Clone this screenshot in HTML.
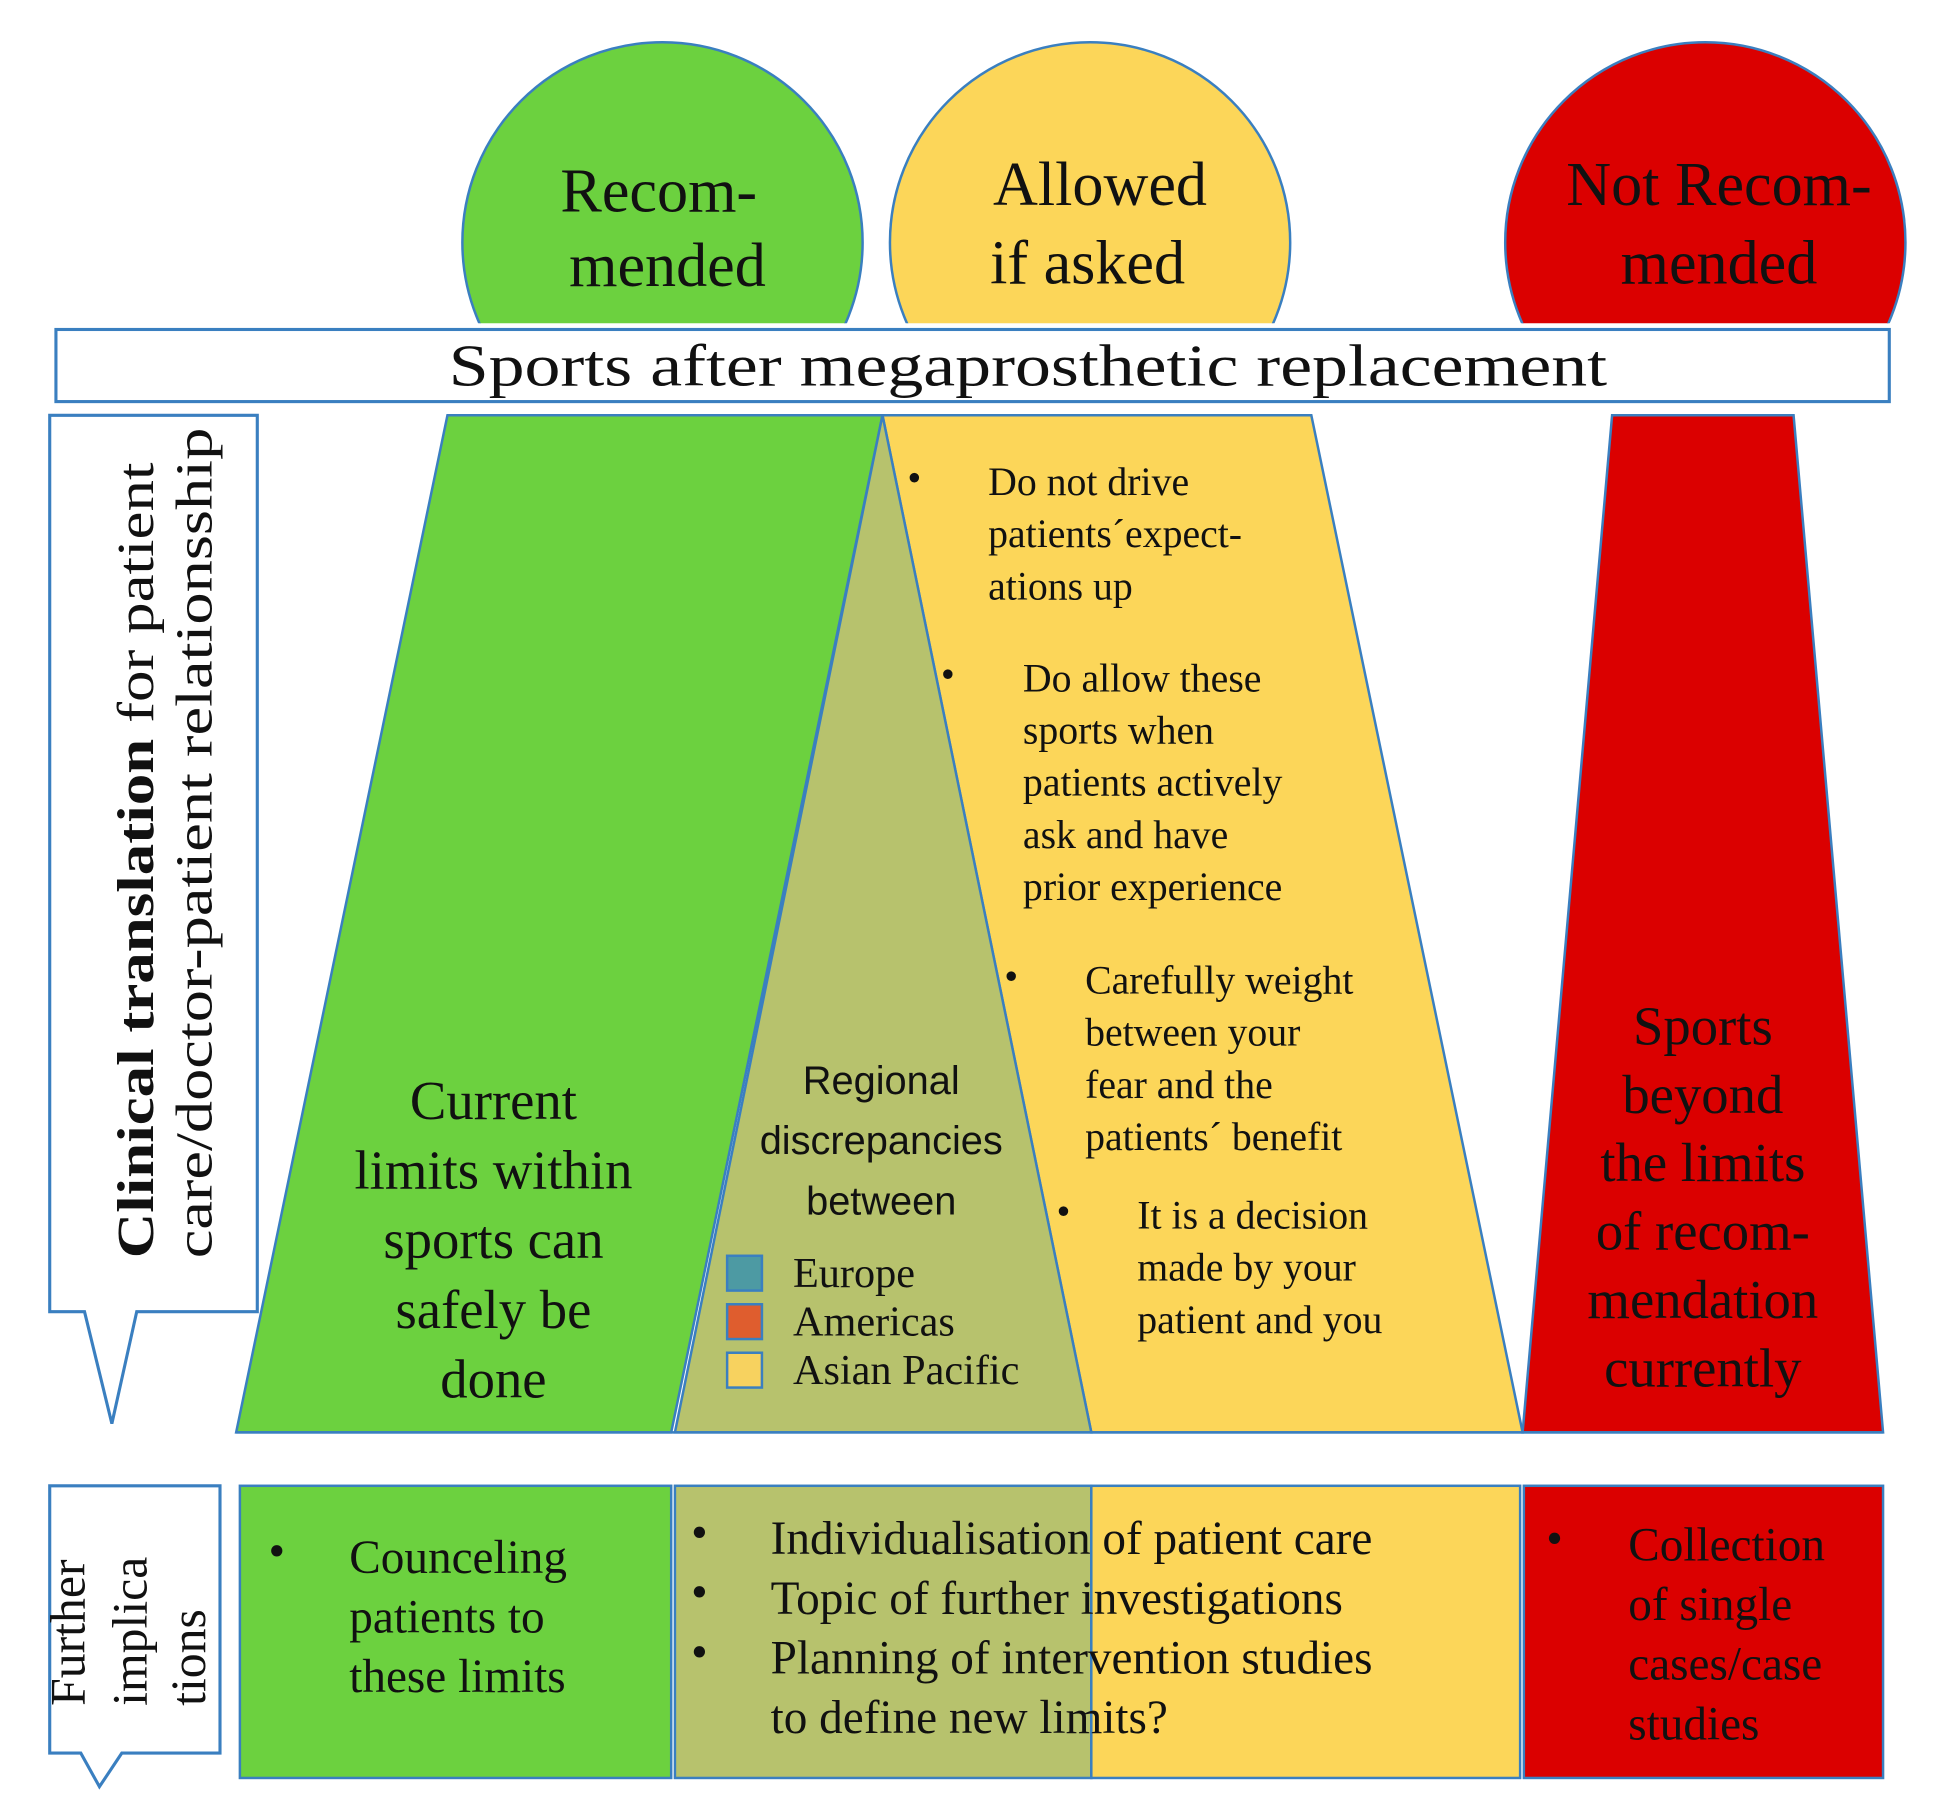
<!DOCTYPE html>
<html><head><meta charset="utf-8"><style>
html,body{margin:0;padding:0;background:#fff;}
svg{display:block;}
text{font-family:"Liberation Serif",serif;fill:#111;}
.s{font-family:"Liberation Sans",sans-serif;}
</style></head><body>
<svg width="1939" height="1819" viewBox="0 0 1560 1463" preserveAspectRatio="none" xmlns="http://www.w3.org/2000/svg">
<defs>
<clipPath id="c"><rect x="0" y="0" width="1560" height="260"/></clipPath>
</defs>
<g clip-path="url(#c)" stroke="#3a7fc0" stroke-width="2">
<circle cx="533" cy="195" r="161" fill="#6cd13f"/>
<circle cx="877" cy="195" r="161" fill="#fcd659"/>
<circle cx="1372" cy="195" r="161" fill="#db0000"/>
</g>
<text x="530" y="170" font-size="50" text-anchor="middle">Recom-</text>
<text x="537" y="230" font-size="50" text-anchor="middle">mended</text>
<text x="885" y="165" font-size="50" text-anchor="middle">Allowed</text>
<text x="875" y="228" font-size="50" text-anchor="middle">if asked</text>
<text x="1383" y="165" font-size="50" text-anchor="middle">Not Recom-</text>
<text x="1383" y="228" font-size="50" text-anchor="middle">mended</text>

<rect x="45" y="265" width="1475" height="58" fill="#fff" stroke="#3a7fc0" stroke-width="2.5"/>
<text x="827" y="310" font-size="48" text-anchor="middle" textLength="932" lengthAdjust="spacingAndGlyphs">Sports after megaprosthetic replacement</text>

<path d="M40,334 H207 V1055 H110 L90,1145 L68,1055 H40 Z" fill="#fff" stroke="#3a7fc0" stroke-width="2.5"/>
<text transform="translate(123,1012) rotate(-90)" font-size="42" textLength="640" lengthAdjust="spacingAndGlyphs"><tspan font-weight="bold">Clinical translation</tspan> for patient</text>
<text transform="translate(170,1012) rotate(-90)" font-size="42" textLength="668" lengthAdjust="spacingAndGlyphs">care/doctor-patient relationsship</text>

<polygon points="360,334 710,334 540,1152 190,1152" fill="#6cd13f" stroke="#3a7fc0" stroke-width="2"/>
<polygon points="710,334 1055,334 1225,1152 878,1152" fill="#fcd659" stroke="#3a7fc0" stroke-width="2"/>
<polygon points="710,334 878,1152 543,1152" fill="#b7c26d" stroke="#3a7fc0" stroke-width="2"/>
<polygon points="1297,334 1443,334 1515,1152 1225,1152" fill="#db0000" stroke="#3a7fc0" stroke-width="2"/>
<line x1="190" y1="1152" x2="1515" y2="1152" stroke="#3a7fc0" stroke-width="2"/>

<g font-size="44" text-anchor="middle">
<text x="397" y="900">Current</text>
<text x="397" y="956">limits within</text>
<text x="397" y="1012">sports can</text>
<text x="397" y="1068">safely be</text>
<text x="397" y="1124">done</text>
</g>
<g class="s" font-size="32" text-anchor="middle">
<text class="s" x="709" y="880">Regional</text>
<text class="s" x="709" y="928">discrepancies</text>
<text class="s" x="709" y="977">between</text>
</g>
<rect x="585" y="1010" width="28" height="28" fill="#4d9aa3" stroke="#3a7fc0" stroke-width="2"/>
<rect x="585" y="1049" width="28" height="28" fill="#df5d2e" stroke="#3a7fc0" stroke-width="2"/>
<rect x="585" y="1088" width="28" height="28" fill="#f7d25f" stroke="#3a7fc0" stroke-width="2"/>
<g font-size="34">
<text x="638" y="1035">Europe</text>
<text x="638" y="1074">Americas</text>
<text x="638" y="1113">Asian Pacific</text>
</g>

<g font-size="32">
<text x="730" y="395">•</text>
<text x="795" y="398">Do not drive</text>
<text x="795" y="440">patients´expect-</text>
<text x="795" y="482">ations up</text>
<text x="757" y="553">•</text>
<text x="823" y="556">Do allow these</text>
<text x="823" y="598">sports when</text>
<text x="823" y="640">patients actively</text>
<text x="823" y="682">ask and have</text>
<text x="823" y="724">prior experience</text>
<text x="808" y="796">•</text>
<text x="873" y="799">Carefully weight</text>
<text x="873" y="841">between your</text>
<text x="873" y="883">fear and the</text>
<text x="873" y="925">patients´ benefit</text>
<text x="850" y="985">•</text>
<text x="915" y="988">It is a decision</text>
<text x="915" y="1030">made by your</text>
<text x="915" y="1072">patient and you</text>
</g>

<g font-size="44" text-anchor="middle">
<text x="1370" y="840">Sports</text>
<text x="1370" y="895">beyond</text>
<text x="1370" y="950">the limits</text>
<text x="1370" y="1005">of  recom-</text>
<text x="1370" y="1060">mendation</text>
<text x="1370" y="1115">currently</text>
</g>

<path d="M40,1195 H177 V1410 H98 L80,1437 L65,1410 H40 Z" fill="#fff" stroke="#3a7fc0" stroke-width="2.5"/>
<text transform="translate(68,1372) rotate(-90)" font-size="40">Further</text>
<text transform="translate(118,1372) rotate(-90)" font-size="40">implica</text>
<text transform="translate(165,1372) rotate(-90)" font-size="40">tions</text>

<rect x="193" y="1195" width="347" height="235" fill="#6cd13f" stroke="#3a7fc0" stroke-width="2"/>
<rect x="543" y="1195" width="335" height="235" fill="#b7c26d" stroke="#3a7fc0" stroke-width="2"/>
<rect x="878" y="1195" width="345" height="235" fill="#fcd659" stroke="#3a7fc0" stroke-width="2"/>
<rect x="1226" y="1195" width="289" height="235" fill="#db0000" stroke="#3a7fc0" stroke-width="2"/>

<g font-size="38">
<text x="216" y="1260">•</text>
<text x="281" y="1265">Counceling</text>
<text x="281" y="1313">patients to</text>
<text x="281" y="1361">these limits</text>
<text x="556" y="1245">•</text>
<text x="620" y="1250">Individualisation of patient care</text>
<text x="556" y="1293">•</text>
<text x="620" y="1298">Topic of further investigations</text>
<text x="556" y="1341">•</text>
<text x="620" y="1346">Planning of intervention studies</text>
<text x="620" y="1394">to define new limits?</text>
<text x="1244" y="1250">•</text>
<text x="1310" y="1255">Collection</text>
<text x="1310" y="1303">of single</text>
<text x="1310" y="1351">cases/case</text>
<text x="1310" y="1399">studies</text>
</g>
</svg>
</body></html>
